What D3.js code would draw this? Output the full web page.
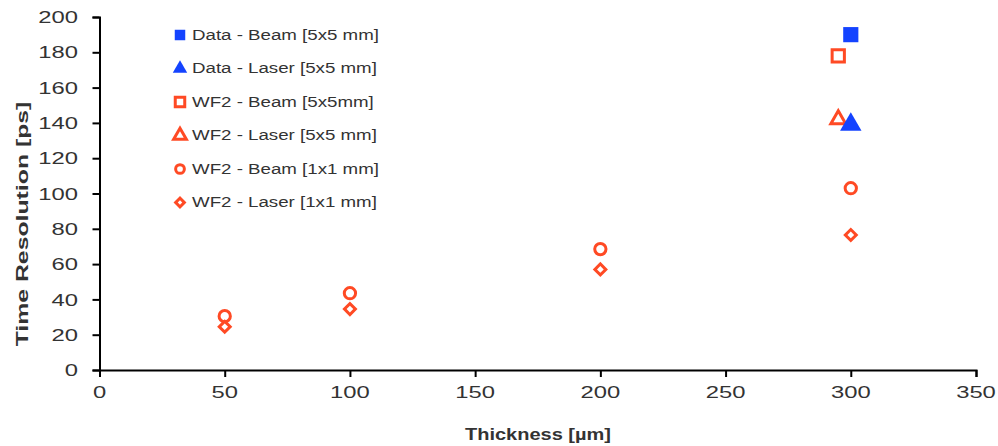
<!DOCTYPE html>
<html><head><meta charset="utf-8">
<script src="https://cdn.jsdelivr.net/npm/d3@7"></script>
<style>body{margin:0;background:#fff}svg{display:block}</style>
</head><body>
<svg id="c" width="998" height="446"></svg>
<script>
const xTicks = [0, 50, 100, 150, 200, 250, 300, 350];
const yTicks = [0, 20, 40, 60, 80, 100, 120, 140, 160, 180, 200];
const seriesNames = ["Data - Beam [5x5 mm]", "Data - Laser [5x5 mm]", "WF2 - Beam [5x5mm]", "WF2 - Laser [5x5 mm]", "WF2 - Beam [1x1 mm]", "WF2 - Laser [1x1 mm]"];
const dataBeam5x5 = [{x: 300, y: 190}];
const dataLaser5x5 = [{x: 300, y: 139}];
const wf2Beam5x5 = [{x: 295, y: 178}];
const wf2Laser5x5 = [{x: 295, y: 142}];
const wf2Beam1x1 = [{x: 50, y: 30.5}, {x: 100, y: 43.5}, {x: 200, y: 68.5}, {x: 300, y: 103}];
const wf2Laser1x1 = [{x: 50, y: 24.5}, {x: 100, y: 34.5}, {x: 200, y: 57}, {x: 300, y: 76.5}];

const BLUE = "#1443ff", RED = "#ff4a24";
const svg = d3.select("#c");
const x = d3.scaleLinear().domain([0, 350]).range([99.5, 976]);
const y = d3.scaleLinear().domain([0, 200]).range([370, 17]);

function stext(g, txt, px, py, fs, sx, opts = {}) {
  const rot = opts.rotate || 0;
  return g.append("text")
    .attr("transform", `translate(${px},${py}) rotate(${rot}) scale(${sx},1)`)
    .attr("text-anchor", opts.anchor || "start")
    .attr("dominant-baseline", "central")
    .attr("font-family", "Liberation Sans, Arial, sans-serif")
    .attr("font-size", fs)
    .attr("font-weight", opts.bold ? "bold" : "normal")
    .attr("fill", "#333")
    .text(txt);
}

// axes
const ax = svg.append("g").attr("transform", `translate(0,${y(0)})`)
  .call(d3.axisBottom(x).tickValues(xTicks).tickSize(7).tickFormat(""));
const ay = svg.append("g").attr("transform", `translate(${x(0)},0)`)
  .call(d3.axisLeft(y).tickValues(yTicks).tickSize(7).tickFormat(""));
[ax, ay].forEach(a => {
  a.selectAll("path").attr("stroke", "#000").attr("stroke-width", 2);
  a.selectAll("line").attr("stroke", "#000").attr("stroke-width", 2);
});

const lab = svg.append("g");
xTicks.forEach(t => stext(lab, String(t), x(t), 392, 17, 1.4, {anchor: "middle"}));
yTicks.forEach(t => stext(lab, String(t), 78, y(t), 17, 1.4, {anchor: "end"}));
stext(lab, "Thickness [µm]", 538, 435, 16, 1.25, {anchor: "middle", bold: true});
stext(lab, "Time Resolution [ps]", 22, 224, 16, 1.55, {anchor: "middle", bold: true, rotate: -90});

// markers
const sq = d3.symbol().type(d3.symbolSquare);
const tri = d3.symbol().type(d3.symbolTriangle);
const circ = d3.symbol().type(d3.symbolCircle);

const series = [
  {data: dataBeam5x5, path: sq.size(230)(), fill: BLUE, stroke: "none", sw: 0, rot: 0, lpath: sq.size(110)(), lsw: 0},
  {data: dataLaser5x5, path: tri.size(200)(), fill: BLUE, stroke: "none", sw: 0, rot: 0, lpath: tri.size(90)(), lsw: 0},
  {data: wf2Beam5x5, path: sq.size(150)(), fill: "#fff", stroke: RED, sw: 3, rot: 0, lpath: sq.size(90)(), lsw: 3},
  {data: wf2Laser5x5, path: tri.size(95)(), fill: "#fff", stroke: RED, sw: 3, rot: 0, lpath: tri.size(70)(), lsw: 3},
  {data: wf2Beam1x1, path: circ.size(100)(), fill: "#fff", stroke: RED, sw: 3, rot: 0, lpath: circ.size(60)(), lsw: 3},
  {data: wf2Laser1x1, path: sq.size(60)(), fill: "#fff", stroke: RED, sw: 3, rot: 45, lpath: sq.size(38)(), lsw: 3}
];

const plot = svg.append("g");
[2, 3, 4, 5, 0, 1].forEach(i => {
  const s = series[i];
  plot.selectAll(null).data(s.data).enter().append("path")
    .attr("d", s.path)
    .attr("transform", d => `translate(${x(d.x)},${y(d.y)}) rotate(${s.rot})`)
    .attr("fill", s.fill).attr("stroke", s.stroke).attr("stroke-width", s.sw);
});

// legend
const leg = svg.append("g");
seriesNames.forEach((name, i) => {
  const s = series[i];
  const ly = 35 + i * 33.5;
  leg.append("path").attr("d", s.lpath)
    .attr("transform", `translate(180,${ly}) rotate(${s.rot})`)
    .attr("fill", s.fill).attr("stroke", s.stroke).attr("stroke-width", s.lsw);
  stext(leg, name, 192, ly, 14.5, 1.29, {});
});
</script>
</body></html>
